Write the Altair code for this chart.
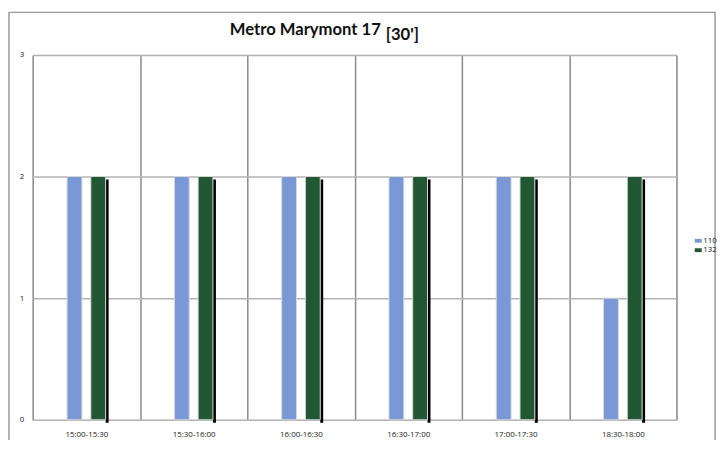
import altair as alt
import pandas as pd

categories = ["15:00-15:30", "15:30-16:00", "16:00-16:30", "16:30-17:00", "17:00-17:30", "18:30-18:00"]
series = ["110", "132"]
values_110 = [2, 2, 2, 2, 2, 1]
values_132 = [2, 2, 2, 2, 2, 2]
colors = ["#7b98d6", "#215733"]
y_ticks = [0, 1, 2, 3]

rows = []
for c, a, b in zip(categories, values_110, values_132):
    rows.append({"slot": c, "series": "110", "count": a})
    rows.append({"slot": c, "series": "132", "count": b})
df = pd.DataFrame(rows)

x = alt.X("slot:N", sort=categories, title=None,
          scale=alt.Scale(paddingInner=0, paddingOuter=0),
          axis=alt.Axis(tickBand="extent", grid=True, gridColor="#8a8a8a", gridWidth=1.5,
                        ticks=False, domain=False, labelAngle=0, labelFontSize=8,
                        labelPadding=11, labelColor="#222222", labelFont="Open Sans"))
xoff = alt.XOffset("series:N", scale=alt.Scale(domain=series, paddingInner=0.375, paddingOuter=0,
                                               range=[34.75, 73.75]))
y = alt.Y("count:Q", title=None, scale=alt.Scale(domain=[0, 3], nice=False),
          axis=alt.Axis(values=y_ticks, grid=True, gridColor="#b3b3b3", gridWidth=1.5,
                        ticks=False, domain=False, labelPadding=9, labelFontSize=8,
                        labelColor="#222222", labelFont="Open Sans"))

base = alt.Chart(df)

shadow = base.transform_filter(alt.datum.series == "132").mark_bar(
    color="black", width=3, xOffset=21, yOffset=3, y2Offset=0
).encode(x=x, y=y)

bars = base.mark_bar(stroke="#d8d8d8", strokeWidth=1).encode(
    x=x, xOffset=xoff, y=y,
    color=alt.Color("series:N", scale=alt.Scale(domain=series, range=colors),
                    legend=alt.Legend(orient="none", legendX=669, legendY=184, title=None,
                                      labelFontSize=8, labelFont="Open Sans", labelColor="#222222",
                                      symbolType="M-1,-0.55H1V0.55H-1Z", symbolSize=50,
                                      symbolStrokeWidth=0, rowPadding=1.5, labelOffset=1))
)

one = pd.DataFrame({"k": [0]})
frame = alt.Chart(one).mark_rect(fillOpacity=0, stroke="#9a9a9a", strokeWidth=1.5).encode(
    x=alt.value(-24), x2=alt.value(690), y=alt.value(-43), y2=alt.value(440)
)
t1 = alt.Chart(one).mark_text(align="right", baseline="alphabetic", font="Lato",
                              fontWeight="bold", fontSize=16.8, color="#111111").encode(
    x=alt.value(352), y=alt.value(-20), text=alt.value("Metro Marymont 17"))
t2 = alt.Chart(one).mark_text(align="left", baseline="alphabetic", font="Lato",
                              fontWeight="bold", fontSize=16.8, color="#111111").encode(
    x=alt.value(357), y=alt.value(-15), text=alt.value("[30']"))

chart = alt.layer(frame, shadow, bars, t1, t2).properties(
    width=651, height=369,
    autosize=alt.AutoSizeParams(type="none"),
    padding={"left": 25, "top": 45, "right": 43, "bottom": 18},
).configure_view(stroke="black", strokeWidth=2).configure(background="white")

chart.save("out.html", embed_options={"renderer": "svg", "actions": False})
